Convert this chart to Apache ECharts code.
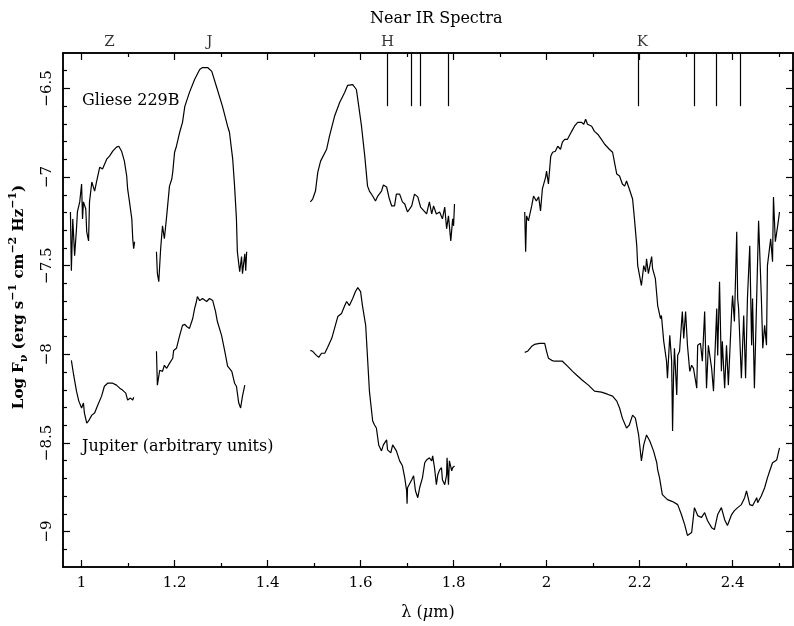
<!DOCTYPE html>
<html>
<head>
<meta charset="utf-8">
<script src="https://cdn.jsdelivr.net/npm/echarts@6/dist/echarts.min.js"></script>
<style>
  html, body { margin: 0; padding: 0; background: #fff; }
  #chart { width: 794px; height: 626px; }
</style>
</head>
<body>
<div id="chart"></div>
<script>
const chart = echarts.init(document.getElementById("chart"));

const FONT = "DejaVu Serif";

// axis ranges and tick values
const X_MIN = 0.96, X_MAX = 2.53;
const Y_MIN = -9.2, Y_MAX = -6.3;
const X_MAJOR = [1, 1.2, 1.4, 1.6, 1.8, 2, 2.2, 2.4];
const X_MINOR = [1.1, 1.3, 1.5, 1.7, 1.9, 2.1, 2.3, 2.5];
const Y_MAJOR = [-9, -8.5, -8, -7.5, -7, -6.5];
const Y_MINOR = [-9.1, -8.9, -8.8, -8.7, -8.6, -8.4, -8.3, -8.2, -8.1, -7.9, -7.8, -7.7, -7.6,
	-7.4, -7.3, -7.2, -7.1, -6.9, -6.8, -6.7, -6.6, -6.4];

// band labels along the top
const BAND_NAMES = ["Z", "J", "H", "K"];
const BAND_POS = [1.06, 1.275, 1.658, 2.206];

// absorption feature markers hanging from the top frame
const FEATURES = [1.658, 1.708, 1.729, 1.789, 2.198, 2.318, 2.366, 2.417];
const FEATURE_BOTTOM = -6.6;

// Gliese 229B spectrum, [wavelength (um), log F]
const glieseZ = [[0.976,-7.197],[0.978,-7.528],[0.981,-7.236],[0.985,-7.444],[0.989,-7.292],[0.991,-7.197],[0.996,-7.14],[1.0,-7.039],[1.002,-7.236],[1.004,-7.14],[1.009,-7.18],[1.011,-7.309],[1.015,-7.36],[1.017,-7.14],[1.022,-7.028],[1.028,-7.079],[1.032,-7.028],[1.039,-6.944],[1.045,-6.955],[1.054,-6.899],[1.06,-6.882],[1.067,-6.854],[1.075,-6.831],[1.08,-6.826],[1.086,-6.854],[1.092,-6.91],[1.097,-6.994],[1.099,-7.067],[1.103,-7.14],[1.108,-7.236],[1.11,-7.348],[1.112,-7.404],[1.114,-7.365]];
const glieseJ = [[1.161,-7.421],[1.163,-7.545],[1.166,-7.59],[1.17,-7.404],[1.174,-7.275],[1.178,-7.348],[1.183,-7.219],[1.189,-7.051],[1.194,-7.011],[1.196,-6.972],[1.2,-6.86],[1.204,-6.826],[1.211,-6.747],[1.217,-6.691],[1.222,-6.601],[1.232,-6.522],[1.243,-6.449],[1.254,-6.393],[1.26,-6.382],[1.271,-6.382],[1.28,-6.404],[1.29,-6.489],[1.303,-6.601],[1.314,-6.713],[1.318,-6.747],[1.325,-6.899],[1.329,-7.051],[1.333,-7.236],[1.335,-7.421],[1.34,-7.534],[1.344,-7.449],[1.346,-7.545],[1.351,-7.433],[1.353,-7.528],[1.355,-7.421]];
const glieseH = [[1.492,-7.14],[1.497,-7.124],[1.503,-7.079],[1.508,-6.972],[1.514,-6.91],[1.518,-6.91],[1.527,-6.843],[1.533,-6.77],[1.544,-6.657],[1.555,-6.579],[1.566,-6.522],[1.572,-6.483],[1.583,-6.478],[1.591,-6.506],[1.594,-6.562],[1.602,-6.713],[1.609,-6.882],[1.615,-7.051],[1.619,-7.079],[1.626,-7.107],[1.632,-7.135],[1.637,-7.107],[1.645,-7.079],[1.649,-7.045],[1.656,-7.056],[1.662,-7.124],[1.667,-7.163],[1.673,-7.163],[1.677,-7.096],[1.684,-7.096],[1.69,-7.14],[1.695,-7.152],[1.701,-7.197],[1.71,-7.163],[1.716,-7.096],[1.723,-7.112],[1.729,-7.169],[1.733,-7.18],[1.742,-7.208],[1.748,-7.14],[1.753,-7.208],[1.757,-7.163],[1.763,-7.208],[1.77,-7.197],[1.776,-7.236],[1.781,-7.169],[1.785,-7.292],[1.789,-7.219],[1.794,-7.36],[1.798,-7.236],[1.8,-7.275],[1.802,-7.152]];
const glieseK = [[1.953,-7.197],[1.955,-7.421],[1.957,-7.219],[1.961,-7.247],[1.968,-7.163],[1.972,-7.107],[1.978,-7.135],[1.983,-7.112],[1.987,-7.191],[1.991,-7.067],[1.998,-7.0],[2.0,-6.966],[2.004,-7.039],[2.009,-6.882],[2.013,-6.86],[2.019,-6.854],[2.024,-6.826],[2.03,-6.843],[2.034,-6.803],[2.039,-6.787],[2.045,-6.787],[2.054,-6.742],[2.06,-6.713],[2.067,-6.691],[2.075,-6.691],[2.08,-6.702],[2.084,-6.674],[2.088,-6.702],[2.097,-6.713],[2.103,-6.742],[2.11,-6.758],[2.118,-6.787],[2.125,-6.815],[2.135,-6.843],[2.142,-6.86],[2.146,-6.916],[2.151,-6.983],[2.157,-6.994],[2.163,-7.039],[2.168,-7.051],[2.172,-7.022],[2.178,-7.067],[2.185,-7.124],[2.189,-7.236],[2.194,-7.388],[2.196,-7.5],[2.2,-7.489],[2.204,-7.612],[2.209,-7.5],[2.213,-7.534],[2.215,-7.461],[2.219,-7.545],[2.226,-7.449],[2.228,-7.517],[2.234,-7.573],[2.239,-7.725],[2.245,-7.798],[2.247,-7.781],[2.252,-7.927],[2.258,-8.039],[2.26,-8.135],[2.265,-7.893],[2.269,-8.039],[2.271,-8.433],[2.273,-8.135],[2.275,-7.966],[2.28,-8.23],[2.282,-8.006],[2.286,-7.983],[2.292,-7.758],[2.295,-7.91],[2.299,-7.758],[2.303,-7.949],[2.308,-8.096],[2.312,-8.062],[2.316,-8.079],[2.323,-8.191],[2.325,-7.949],[2.331,-7.938],[2.335,-8.039],[2.34,-7.758],[2.344,-8.191],[2.348,-7.949],[2.355,-8.079],[2.359,-8.208],[2.366,-7.742],[2.368,-8.006],[2.372,-7.59],[2.376,-8.096],[2.378,-7.927],[2.383,-8.191],[2.387,-7.949],[2.391,-8.174],[2.398,-7.758],[2.4,-7.669],[2.404,-7.815],[2.409,-7.309],[2.411,-7.685],[2.413,-7.742],[2.419,-8.135],[2.424,-7.781],[2.428,-8.135],[2.432,-7.685],[2.437,-7.388],[2.441,-7.949],[2.443,-7.685],[2.447,-8.191],[2.452,-7.669],[2.456,-7.247],[2.462,-7.685],[2.465,-7.966],[2.469,-7.837],[2.473,-7.949],[2.475,-7.5],[2.482,-7.348],[2.486,-7.478],[2.488,-7.112],[2.492,-7.365],[2.497,-7.275],[2.501,-7.197]];

// Jupiter spectrum (arbitrary units), [wavelength (um), log F]
const jupiterZ = [[0.978,-8.034],[0.983,-8.118],[0.989,-8.208],[0.994,-8.264],[1.0,-8.303],[1.004,-8.275],[1.006,-8.331],[1.011,-8.388],[1.015,-8.376],[1.022,-8.343],[1.028,-8.331],[1.034,-8.292],[1.043,-8.236],[1.049,-8.18],[1.056,-8.163],[1.067,-8.163],[1.075,-8.174],[1.082,-8.191],[1.088,-8.202],[1.095,-8.219],[1.099,-8.258],[1.105,-8.247],[1.11,-8.258],[1.112,-8.242]];
const jupiterJ = [[1.161,-7.983],[1.163,-8.174],[1.168,-8.09],[1.174,-8.096],[1.178,-8.062],[1.183,-8.079],[1.189,-8.051],[1.196,-8.022],[1.198,-7.978],[1.204,-7.966],[1.211,-7.893],[1.217,-7.837],[1.222,-7.831],[1.226,-7.843],[1.232,-7.854],[1.239,-7.798],[1.243,-7.742],[1.247,-7.702],[1.249,-7.674],[1.254,-7.697],[1.26,-7.685],[1.269,-7.702],[1.275,-7.685],[1.282,-7.697],[1.288,-7.758],[1.292,-7.815],[1.301,-7.893],[1.308,-7.983],[1.314,-8.067],[1.323,-8.096],[1.329,-8.163],[1.333,-8.18],[1.338,-8.275],[1.342,-8.303],[1.346,-8.236],[1.351,-8.174]];
const jupiterH = [[1.492,-7.978],[1.497,-7.983],[1.505,-8.006],[1.51,-8.017],[1.516,-7.994],[1.523,-7.994],[1.529,-7.961],[1.538,-7.91],[1.544,-7.854],[1.551,-7.787],[1.559,-7.77],[1.566,-7.725],[1.57,-7.702],[1.576,-7.725],[1.583,-7.685],[1.589,-7.646],[1.594,-7.624],[1.6,-7.646],[1.604,-7.725],[1.611,-7.837],[1.615,-8.022],[1.619,-8.208],[1.626,-8.376],[1.63,-8.399],[1.634,-8.416],[1.639,-8.511],[1.645,-8.545],[1.649,-8.511],[1.656,-8.483],[1.658,-8.539],[1.665,-8.556],[1.669,-8.511],[1.673,-8.517],[1.677,-8.545],[1.684,-8.601],[1.69,-8.629],[1.695,-8.697],[1.699,-8.77],[1.7,-8.843],[1.701,-8.753],[1.71,-8.708],[1.714,-8.685],[1.718,-8.77],[1.723,-8.809],[1.727,-8.753],[1.733,-8.697],[1.738,-8.612],[1.742,-8.596],[1.748,-8.584],[1.753,-8.601],[1.755,-8.573],[1.759,-8.64],[1.763,-8.736],[1.766,-8.68],[1.77,-8.652],[1.774,-8.64],[1.776,-8.708],[1.781,-8.736],[1.785,-8.68],[1.786,-8.584],[1.789,-8.736],[1.791,-8.601],[1.796,-8.657],[1.798,-8.64],[1.802,-8.629]];
const jupiterK = [[1.953,-7.989],[1.959,-7.983],[1.968,-7.955],[1.974,-7.944],[1.985,-7.938],[1.996,-7.938],[2.0,-7.983],[2.004,-8.022],[2.011,-8.034],[2.017,-8.039],[2.024,-8.039],[2.034,-8.039],[2.045,-8.067],[2.056,-8.096],[2.065,-8.118],[2.077,-8.146],[2.09,-8.174],[2.103,-8.208],[2.118,-8.213],[2.131,-8.225],[2.142,-8.236],[2.151,-8.264],[2.157,-8.303],[2.163,-8.36],[2.172,-8.416],[2.178,-8.399],[2.185,-8.343],[2.191,-8.36],[2.198,-8.455],[2.204,-8.601],[2.209,-8.511],[2.215,-8.455],[2.222,-8.489],[2.23,-8.545],[2.237,-8.612],[2.239,-8.652],[2.243,-8.697],[2.249,-8.792],[2.26,-8.82],[2.271,-8.831],[2.282,-8.848],[2.29,-8.904],[2.297,-8.961],[2.303,-9.022],[2.312,-9.006],[2.318,-8.865],[2.325,-8.91],[2.333,-8.921],[2.34,-8.893],[2.346,-8.938],[2.355,-8.978],[2.361,-8.989],[2.368,-8.904],[2.376,-8.865],[2.383,-8.933],[2.389,-8.966],[2.398,-8.904],[2.404,-8.882],[2.411,-8.865],[2.419,-8.848],[2.426,-8.809],[2.43,-8.77],[2.437,-8.848],[2.443,-8.854],[2.452,-8.809],[2.454,-8.837],[2.462,-8.798],[2.469,-8.753],[2.475,-8.697],[2.48,-8.657],[2.486,-8.612],[2.495,-8.596],[2.497,-8.573],[2.501,-8.528]];

const spectra = [glieseZ, glieseJ, glieseH, glieseK, jupiterZ, jupiterJ, jupiterH, jupiterK];

const textStyle = { fontFamily: FONT, fontSize: 15, color: "#000" };
const frame = { show: true, lineStyle: { color: "#000", width: 1.5 } };

function xAxisDef(position, ticks, len, labels) {
	return {
		type: "value", position: position, min: X_MIN, max: X_MAX,
		axisLine: frame,
		axisTick: { show: true, inside: true, length: len, customValues: ticks, lineStyle: { color: "#000", width: 1.2 } },
		axisLabel: labels ? Object.assign({ customValues: ticks, margin: 9 }, textStyle) : { show: false },
		splitLine: { show: false }
	};
}
function yAxisDef(position, ticks, len, labels) {
	return {
		type: "value", position: position, min: Y_MIN, max: Y_MAX,
		axisLine: frame,
		axisTick: { show: true, inside: true, length: len, customValues: ticks, lineStyle: { color: "#000", width: 1.2 } },
		axisLabel: labels ? Object.assign({
			customValues: ticks, rotate: 90, margin: 8,
			formatter: v => "\u2212" + Math.abs(v)
		}, textStyle) : { show: false },
		splitLine: { show: false }
	};
}

const xAxes = [
	xAxisDef("bottom", X_MAJOR, 7, true),
	xAxisDef("bottom", X_MINOR, 4, false),
	xAxisDef("top", X_MAJOR, 7, false),
	xAxisDef("top", X_MINOR, 4, false)
];
xAxes[0].name = "{t|\u03bb (}{i|\u03bc}{t|m)}";
xAxes[0].nameLocation = "middle";
xAxes[0].nameGap = 38;
xAxes[0].nameTextStyle = { rich: {
	t: { fontFamily: FONT, fontSize: 16, color: "#000" },
	i: { fontFamily: FONT, fontSize: 16, color: "#000", fontStyle: "italic" }
} };

const yAxes = [
	yAxisDef("left", Y_MAJOR, 7, true),
	yAxisDef("left", Y_MINOR, 4, false),
	yAxisDef("right", Y_MAJOR, 7, false),
	yAxisDef("right", Y_MINOR, 4, false)
];
yAxes[0].name = "{t|Log F}{sub|\u03bd}{t| (erg s}{sup|\u22121}{t| cm}{sup|\u22122}{t| Hz}{sup|\u22121}{t|)}";
yAxes[0].nameLocation = "middle";
yAxes[0].nameRotate = 90;
yAxes[0].nameGap = 33;
yAxes[0].nameTextStyle = {
	padding: [0, 0, 0, 26],
	rich: {
		t: { fontFamily: FONT, fontSize: 15, color: "#000", fontWeight: "bold", lineHeight: 22 },
		sub: { fontFamily: FONT, fontSize: 11, color: "#000", fontWeight: "bold", verticalAlign: "bottom", lineHeight: 22 },
		sup: { fontFamily: FONT, fontSize: 11, color: "#000", fontWeight: "bold", verticalAlign: "top", lineHeight: 22 }
	}
};

const series = spectra.map(d => ({
	type: "line",
	data: d,
	showSymbol: false,
	symbol: "none",
	lineStyle: { color: "#000", width: 1.2 },
	silent: true
}));

series.push({
	type: "line",
	data: [],
	silent: true,
	markLine: {
		symbol: "none",
		silent: true,
		animation: false,
		label: { show: false },
		lineStyle: { color: "#000", width: 1.2, type: "solid" },
		data: FEATURES.map(x => [{ coord: [x, Y_MAX] }, { coord: [x, FEATURE_BOTTOM] }])
	}
});

series.push({
	type: "scatter",
	data: BAND_POS.map(x => [x, Y_MAX]),
	symbolSize: 0,
	clip: false,
	silent: true,
	label: Object.assign({
		show: true, position: "top", distance: 3,
		formatter: p => BAND_NAMES[p.dataIndex]
	}, textStyle)
});

option = {
	animation: false,
	backgroundColor: "#fff",
	title: {
		text: "Near IR Spectra",
		left: 365,
		top: 6,
		textStyle: { fontFamily: FONT, fontSize: 16, fontWeight: "normal", color: "#000" }
	},
	grid: { left: 63, right: 1, top: 53, bottom: 58, containLabel: false },
	xAxis: xAxes,
	yAxis: yAxes,
	graphic: [
		{ type: "text", left: 82, top: 93, style: { text: "Gliese 229B", font: "16px " + FONT, fill: "#000" } },
		{ type: "text", left: 82, top: 439, style: { text: "Jupiter (arbitrary units)", font: "16px " + FONT, fill: "#000" } }
	],
	series: series
};

chart.setOption(option);
window.onresize = chart.resize;
</script>
</body>
</html>
